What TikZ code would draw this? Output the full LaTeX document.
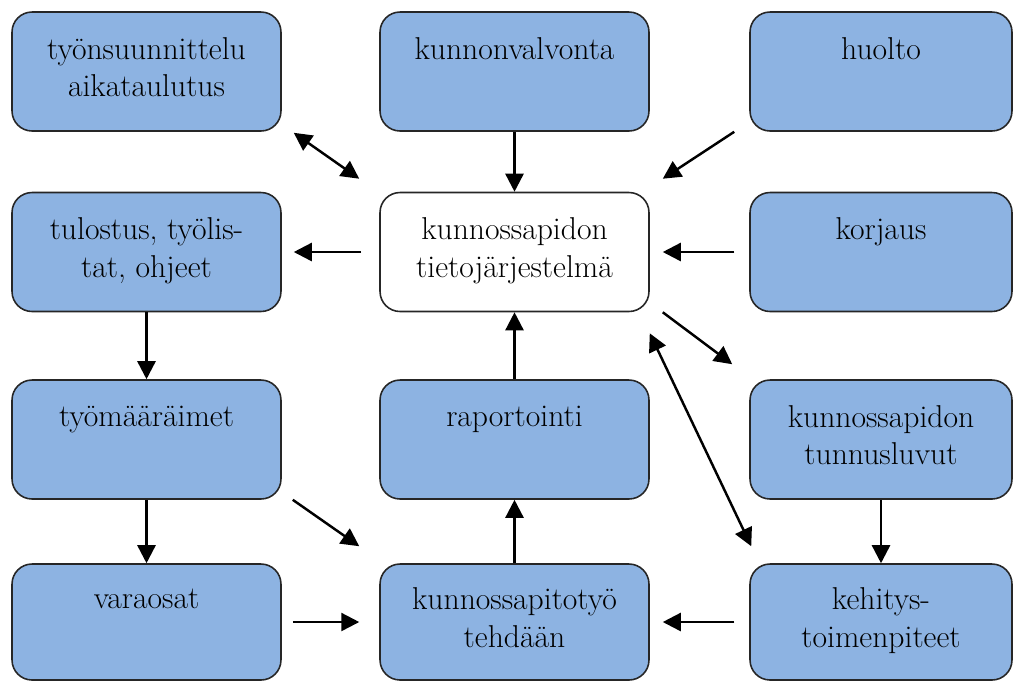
\documentclass[tikz,border=0pt]{standalone}
\usepackage{fontspec}
\usetikzlibrary{arrows.meta}
\definecolor{boxblue}{HTML}{8DB3E2}
\definecolor{edgegray}{HTML}{262626}

\begin{document}
\begin{tikzpicture}[
  x=0.02cm, y=-0.02cm,
  >={Triangle[length=3.6mm, width=3.6mm]},
  infobox/.style={
    draw=edgegray, line width=0.9pt, fill=boxblue, rounded corners=0.4cm,
    minimum width=5.38cm, minimum height=2.38cm, inner sep=0pt,
    text depth=5pt,
    align=center, font=\fontsize{18}{21.5}\selectfont
  },
  hubbox/.style={infobox, fill=white},
  arr/.style={->, line width=1.4pt, black},
  biarr/.style={<->, line width=1.4pt, black},
]

% Page
\useasboundingbox (0,0) rectangle (1013,681);

% =============================================
% Top row
% =============================================
\node[infobox] (plan) at (146.5,71.5)
  {työnsuunnittelu\\aikataulutus};

\node[infobox] (cond) at (514.5,71.5)
  {kunnonvalvonta\\\mbox{}};

\node[infobox, minimum width=5.24cm] (serv) at (881,71.5)
  {huolto\\\mbox{}};

% =============================================
% Second row
% =============================================
\node[infobox] (print) at (146.5,252)
  {tulostus, työlis-\\tat, ohjeet};

\node[hubbox] (cis) at (514.5,252)
  {kunnossapidon\\tietojärjestelmä};

\node[infobox, minimum width=5.24cm] (repair) at (881,252)
  {korjaus\\\mbox{}};

% =============================================
% Third row
% =============================================
\node[infobox] (orders) at (146.5,439.5)
  {työmääräimet\\\mbox{}};

\node[infobox] (report) at (514.5,439.5)
  {raportointi\\\mbox{}};

\node[infobox, minimum width=5.24cm] (kpi) at (881,439.5)
  {kunnossapidon\\tunnusluvut};

% =============================================
% Bottom row
% =============================================
\node[infobox, minimum height=2.32cm] (parts) at (146.5,622)
  {varaosat\\\mbox{}};

\node[infobox, minimum height=2.32cm] (work) at (514.5,622)
  {kunnossapitotyö\\tehdään};

\node[infobox, minimum height=2.32cm, minimum width=5.24cm] (devel) at (881,622)
  {kehitys-\\toimenpiteet};

% Arrows round the information system
\draw[biarr] ([xshift=0.24cm, yshift=-0.02cm]plan.south east)
  -- ([xshift=-0.4cm, yshift=0.26cm]cis.north west);
\draw[arr] (cond.south) -- (cis.north);
\draw[arr] ([xshift=-0.3cm]serv.south west)
  -- ([xshift=0.26cm, yshift=0.26cm]cis.north east);
\draw[arr, shorten <=0.36cm, shorten >=0.24cm] (cis.west) -- (print.east);
\draw[arr, shorten <=0.3cm, shorten >=0.26cm] (repair.west) -- (cis.east);
\draw[arr] (report.north) -- (cis.south);
\draw[arr] ([xshift=0.26cm]cis.south east)
  -- ([xshift=-0.34cm, yshift=0.3cm]kpi.north west);
\draw[biarr] ([yshift=-0.42cm]cis.south east)
  -- ([xshift=0.04cm, yshift=0.34cm]devel.north west);

% Arrows in the work flow
\draw[arr] (kpi.south) -- (devel.north);
\draw[arr, shorten <=0.3cm, shorten >=0.26cm] (devel.west) -- (work.east);
\draw[arr] (print.south) -- (orders.north);
\draw[arr] (orders.south) -- (parts.north);
\draw[arr] ([xshift=0.22cm]orders.south east)
  -- ([xshift=-0.4cm, yshift=0.34cm]work.north west);
\draw[arr, shorten <=0.22cm, shorten >=0.4cm] (parts.east) -- (work.west);
\draw[arr] (work.north) -- (report.south);

\end{tikzpicture}
\end{document}
